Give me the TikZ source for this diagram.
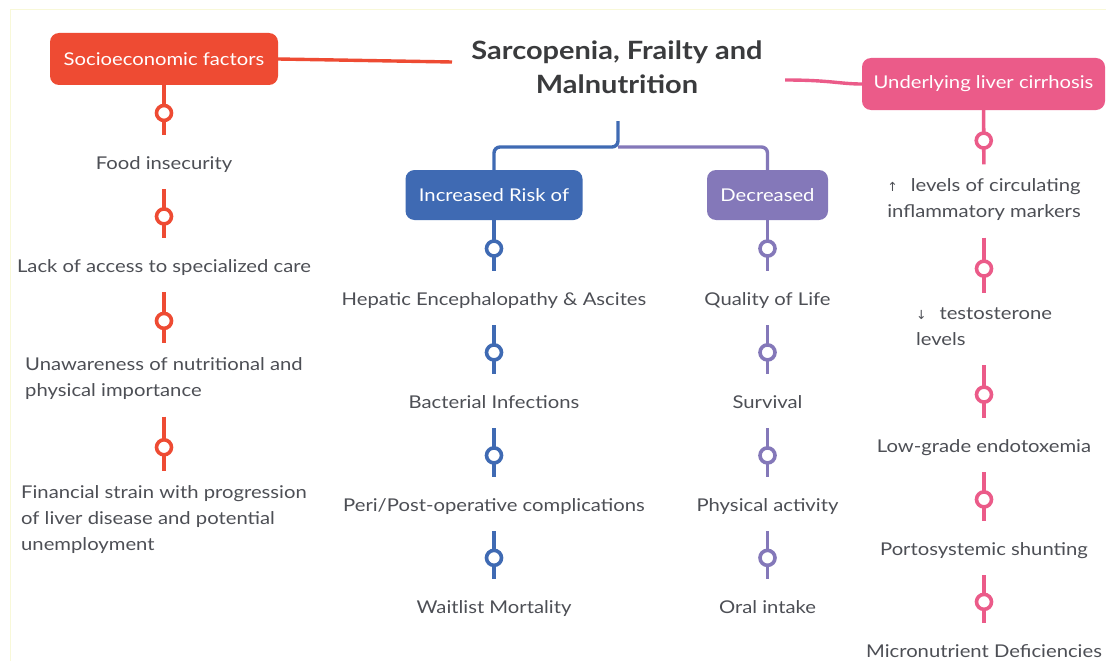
\documentclass[tikz,border=0pt]{standalone}
\usepackage{fontspec}
\setmainfont[FakeStretch=1.15]{Lato}
\newfontfamily\arrowfont{DejaVu Sans}
\usetikzlibrary{calc}
\definecolor{cred}{HTML}{EE4B33}
\definecolor{cpink}{HTML}{EB5B89}
\definecolor{cblue}{HTML}{3F6AB3}
\definecolor{cpurple}{HTML}{8478B9}
\definecolor{ctext}{HTML}{4D4F55}
\definecolor{ctitle}{HTML}{3A3B3D}
\definecolor{cframe}{HTML}{F8F8D8}
\newcommand\itemstrut{\rule[-5.8pt]{0pt}{26pt}}
\begin{document}
\begin{tikzpicture}[x=1pt,y=-1pt,
  box/.style={rounded corners=9pt, text=white, font=\fontsize{17.6}{22}\selectfont,
    inner sep=0pt, minimum height=52pt},
  item/.style={text=ctext, font=\fontsize{17.6}{26}\selectfont, align=left,
    inner xsep=0pt, inner ysep=14pt,
    execute at begin node=\itemstrut, execute at end node=\itemstrut},
  conn/.style={line width=3.4pt, draw=#1},
  pinline/.style={line width=3.6pt, draw=#1},
  pinc/.style={circle, draw=#1, fill=white, line width=3.6pt,
    minimum size=15pt, inner sep=0pt, pos=0.56},
  titlestyle/.style={text=ctitle, font=\bfseries\fontsize{25.2}{34}\selectfont,
    align=center, inner sep=0pt}
]
\useasboundingbox (0,0) rectangle (1106,661);
\fill[white] (0,0) rectangle (1106,661);
\draw[cframe, line width=1pt] (10,661) -- (10,10) -- (1106,10);

% title and main boxes
\node[titlestyle] (title) at (617,67) {Sarcopenia, Frailty and\\Malnutrition};
\node[box, fill=cred, minimum width=228pt] (socio) at (164,59) {Socioeconomic factors};
\node[box, fill=cpink, minimum width=243pt] (liver) at (983.5,84) {Underlying liver cirrhosis};
\node[box, fill=cblue, minimum width=177pt, minimum height=50pt] (inc) at (494,195) {Increased Risk of};
\node[box, fill=cpurple, minimum width=121pt, minimum height=50pt] (dec) at (767.5,195) {Decreased};

% connectors from title
\coordinate (tl) at (452,62);
\coordinate (tr) at (785,80);
\coordinate (ts) at (618,121);
\coordinate (fork) at (618,147);
\draw[conn=cred] (socio.east) -- (tl);
\draw[conn=cpink] (tr) .. controls (830,80) and (840,84) .. (liver.west);
\draw[conn=cpurple, rounded corners=6pt] (fork) -| (dec.north);
\draw[conn=cblue, rounded corners=6pt] (ts) -- (fork) -| (inc.north);

% left column
\node[item] (l1) at (164,162) {Food insecurity};
\node[item] (l2) at (164,265) {Lack of access to specialized care};
\node[item] (l3) at (164,380) {Unawareness of nutritional and\\physical importance};
\node[item] (l4) at (164,521) {Financial strain with progression\\of liver disease and potential\\unemployment};
\draw[pinline=cred] (socio) -- node[pinc=cred]{} (l1);
\draw[pinline=cred] (l1) -- node[pinc=cred]{} (l2);
\draw[pinline=cred] (l2) -- node[pinc=cred]{} (l3);
\draw[pinline=cred] (l3) -- node[pinc=cred]{} (l4);

% blue column
\node[item] (b1) at (494,298) {Hepatic Encephalopathy \& Ascites};
\node[item] (b2) at (494,401) {Bacterial Infections};
\node[item] (b3) at (494,504) {Peri/Post-operative complications};
\node[item] (b4) at (494,606) {Waitlist Mortality};
\draw[pinline=cblue] (inc) -- node[pinc=cblue]{} (b1);
\draw[pinline=cblue] (b1) -- node[pinc=cblue]{} (b2);
\draw[pinline=cblue] (b2) -- node[pinc=cblue]{} (b3);
\draw[pinline=cblue] (b3) -- node[pinc=cblue]{} (b4);

% purple column
\node[item] (p1) at (767.5,298) {Quality of Life};
\node[item] (p2) at (767.5,401) {Survival};
\node[item] (p3) at (767.5,504) {Physical activity};
\node[item] (p4) at (767.5,606) {Oral intake};
\draw[pinline=cpurple] (dec) -- node[pinc=cpurple]{} (p1);
\draw[pinline=cpurple] (p1) -- node[pinc=cpurple]{} (p2);
\draw[pinline=cpurple] (p2) -- node[pinc=cpurple]{} (p3);
\draw[pinline=cpurple] (p3) -- node[pinc=cpurple]{} (p4);

% right column
\node[item] (r1) at (984,201) {{\arrowfont\fontsize{12.5}{26}\selectfont ↑}\hspace{13pt}levels of circulating\\inflammatory markers};
\node[item] (r2) at (984,329) {{\arrowfont\fontsize{12.5}{26}\selectfont ↓}\hspace{13pt}testosterone\\levels};
\node[item] (r3) at (984,445) {Low-grade endotoxemia};
\node[item] (r4) at (984,548) {Portosystemic shunting};
\node[item] (r5) at (984,650) {Micronutrient Deficiencies};
\draw[pinline=cpink] (liver) -- node[pinc=cpink]{} (r1);
\draw[pinline=cpink] (r1) -- node[pinc=cpink]{} (r2);
\draw[pinline=cpink] (r2) -- node[pinc=cpink]{} (r3);
\draw[pinline=cpink] (r3) -- node[pinc=cpink]{} (r4);
\draw[pinline=cpink] (r4) -- node[pinc=cpink]{} (r5);
\end{tikzpicture}
\end{document}
